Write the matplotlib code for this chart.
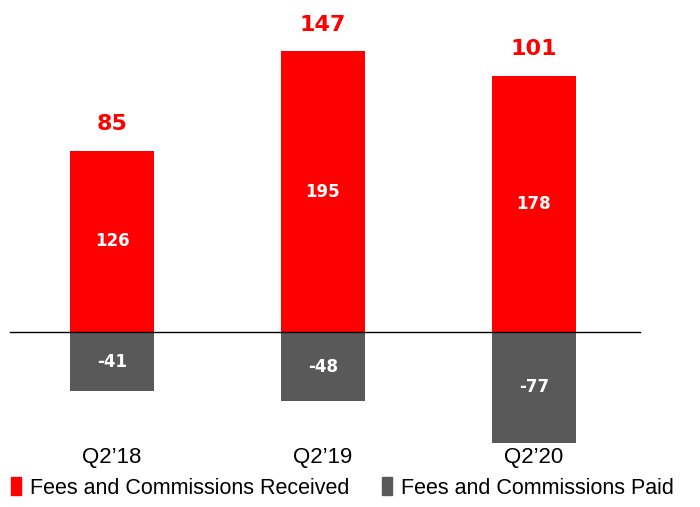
import matplotlib
matplotlib.use("Agg")
import matplotlib.pyplot as plt
from matplotlib.patches import Patch

# data
quarters = ["Q2\u201918", "Q2\u201919", "Q2\u201920"]
received = [126, 195, 178]
paid = [-41, -48, -77]
net = [85, 147, 101]

RED = "#FF0000"
GREY = "#595959"
NARROW = ["Liberation Sans", "DejaVu Sans"]

fig = plt.figure(figsize=(7, 5.07), dpi=100)
ax = fig.add_axes([0, 0, 1, 1])
ax.set_xlim(-0.531, 2.787)
ax.set_ylim(-121.5, 230.6)
ax.axis("off")

x = range(len(quarters))
w = 0.398
ax.bar(x, received, width=w, color=RED)
ax.bar(x, paid, width=w, color=GREY)
ax.plot([-0.483, 2.502], [0, 0], color="black", lw=1)

for i in x:
    ax.text(i, received[i] / 2, str(received[i]), ha="center", va="center",
            color="white", fontsize=12, fontweight="bold")
    ax.text(i, paid[i] / 2, str(paid[i]), ha="center", va="center",
            color="white", fontsize=12, fontweight="bold")
    ax.annotate(str(net[i]), (i, received[i]), xytext=(0, 12), textcoords="offset points",
                ha="center", va="bottom", color=RED, fontsize=16, fontweight="bold")
    ax.text(i, -87, quarters[i], ha="center", va="center", fontsize=16, family=NARROW)

handles = [Patch(color=RED, label="Fees and Commissions Received"),
           Patch(color=GREY, label="Fees and Commissions Paid")]
fig.legend(handles=handles, loc="lower left", bbox_to_anchor=(-0.012, -0.022), ncol=2,
           frameon=False, handlelength=0.45, handleheight=0.9, handletextpad=0.45,
           columnspacing=1.5, prop={"family": NARROW, "size": 15.5})

fig.savefig("out.png", dpi=100)
